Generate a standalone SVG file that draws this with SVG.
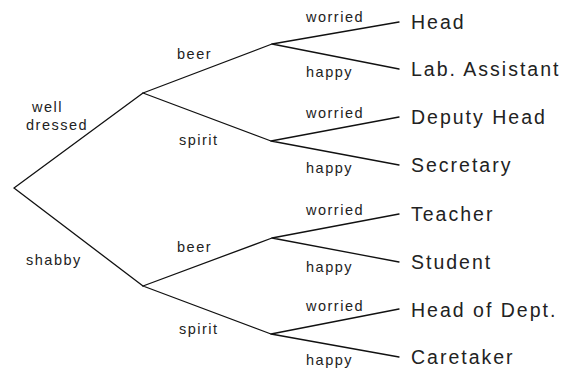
<svg xmlns="http://www.w3.org/2000/svg" width="568" height="375" viewBox="0 0 568 375">
<style>
.e{stroke:#111;stroke-width:1.3;fill:none;stroke-linecap:round}
.s{font-family:"Liberation Sans",Arial,sans-serif;font-size:14.5px;letter-spacing:1.5px;fill:#222}
.l{font-family:"Liberation Sans",Arial,sans-serif;font-size:19.5px;letter-spacing:2px;fill:#222}
</style>
<rect width="568" height="375" fill="#fff"/>
<g id="connectors">
<path class="e" d="M14,188 L143,93 M14,188 L143,286"/>
<path class="e" d="M143,93 L272,44 M143,93 L271,141 M143,286 L272,238 M143,286 L271,334"/>
<path class="e" d="M272,44 L399,22 M272,44 L399,69 M271,141 L399,117 M271,141 L399,165"/>
<path class="e" d="M272,238 L399,214 M272,238 L399,262 M271,334 L399,309 M271,334 L399,357"/>
</g>
<g id="edge-labels">
<text class="s" x="32" y="112">well</text>
<text class="s" x="26" y="130">dressed</text>
<text class="s" x="26" y="265">shabby</text>
<text class="s" x="177" y="59">beer</text>
<text class="s" x="179" y="145">spirit</text>
<text class="s" x="177" y="252">beer</text>
<text class="s" x="179" y="334">spirit</text>
<text class="s" x="306" y="22">worried</text>
<text class="s" x="306" y="77">happy</text>
<text class="s" x="306" y="118">worried</text>
<text class="s" x="306" y="173">happy</text>
<text class="s" x="306" y="215">worried</text>
<text class="s" x="306" y="272">happy</text>
<text class="s" x="306" y="311">worried</text>
<text class="s" x="306" y="365">happy</text>
</g>
<g id="n-head"><text class="l" x="411" y="29">Head</text></g>
<g id="n-lab"><text class="l" x="411" y="76">Lab. Assistant</text></g>
<g id="n-deputy"><text class="l" x="411" y="124">Deputy Head</text></g>
<g id="n-secretary"><text class="l" x="411" y="172">Secretary</text></g>
<g id="n-teacher"><text class="l" x="411" y="221">Teacher</text></g>
<g id="n-student"><text class="l" x="411" y="269">Student</text></g>
<g id="n-hod"><text class="l" x="411" y="317">Head of Dept.</text></g>
<g id="n-caretaker"><text class="l" x="411" y="364">Caretaker</text></g>
</svg>
